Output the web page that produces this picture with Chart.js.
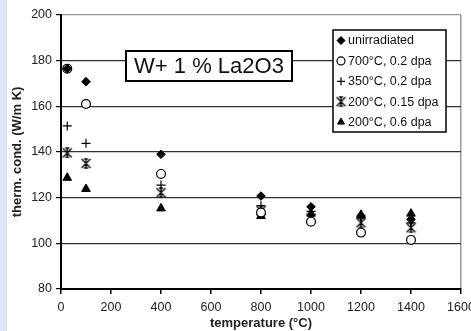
<!DOCTYPE html>
<html>
<head>
<meta charset="utf-8">
<script src="https://cdn.jsdelivr.net/npm/chart.js@4"></script>
<style>
  html, body { margin: 0; padding: 0; background: #fff; overflow: hidden; }
</style>
</head>
<body>
<canvas id="chart" width="471" height="331"></canvas>
<script>
// temperatures (°C) where the samples were measured
const temps = [25, 100, 400, 800, 1000, 1200, 1400];

// thermal conductivity (W/m K)
const unirradiated = [176.5, 170.8, 139.0, 120.7, 116.0, 112.0, 110.5];
const irr700_02    = [176.5, 161.0, 130.4, 113.5, 109.5, 104.7, 101.5];
const irr350_02    = [151.4, 143.8, 125.5, 116.5, 114.0, 111.0, 109.0];
const irr200_015   = [139.6, 135.0, 122.2, 114.3, 111.0, 109.0, 106.8];
const irr200_06    = [128.7, 123.8, 115.3, 112.0, 113.0, 112.5, 113.0];

const seriesNames = ['unirradiated', '700°C, 0.2 dpa', '350°C, 0.2 dpa', '200°C, 0.15 dpa', '200°C, 0.6 dpa'];
const chartLabel = 'W+ 1 % La2O3';
const xTitle = 'temperature (°C)';
const yTitle = 'therm. cond. (W/m K)';

const FONT = '"Liberation Sans", Arial, sans-serif';

// asterisk with caps, like the one in the original figure
function makeStar() {
  const c = document.createElement('canvas');
  c.width = 11; c.height = 11;
  const g = c.getContext('2d');
  g.strokeStyle = '#000';
  g.lineWidth = 1.3;
  g.beginPath();
  g.moveTo(1, 1); g.lineTo(10, 10);
  g.moveTo(10, 1); g.lineTo(1, 10);
  g.moveTo(5.5, 1); g.lineTo(5.5, 10);
  g.moveTo(3.5, 1); g.lineTo(7.5, 1);
  g.moveTo(3.5, 10); g.lineTo(7.5, 10);
  g.stroke();
  return c;
}
const starImg = makeStar();

const styles = [
  { pointStyle: 'rectRot',  radius: 4.3, bg: '#000', border: 1 },
  { pointStyle: 'circle',   radius: 4.4, bg: '#fff', border: 1.2 },
  { pointStyle: 'cross',    radius: 4.5, bg: '#000', border: 1.2 },
  { pointStyle: starImg,    radius: 5,   bg: '#000', border: 1 },
  { pointStyle: 'triangle', radius: 5,   bg: '#000', border: 1 }
];
const values = [unirradiated, irr700_02, irr350_02, irr200_015, irr200_06];

const datasets = values.map((vals, i) => ({
  label: seriesNames[i],
  data: temps.map((t, j) => ({ x: t, y: vals[j] })),
  showLine: false,
  pointStyle: styles[i].pointStyle,
  pointRadius: styles[i].radius,
  pointBackgroundColor: styles[i].bg,
  pointBorderColor: '#000',
  pointBorderWidth: styles[i].border
}));

const decor = {
  id: 'decor',
  beforeDraw(chart) {
    const c = chart.ctx;
    c.save();
    c.fillStyle = '#fff';
    c.fillRect(0, 0, chart.width, chart.height);
    c.fillStyle = '#e4e4f9';
    c.fillRect(0, 0, 7, chart.height);
    c.restore();
  },
  afterDraw(chart) {
    const c = chart.ctx;
    c.save();
    // label box
    c.fillStyle = '#fff';
    c.fillRect(126, 51, 166, 30);
    c.strokeStyle = '#000';
    c.lineWidth = 2;
    c.strokeRect(126, 51, 166, 30);
    c.fillStyle = '#111';
    c.font = '22px ' + FONT;
    c.textAlign = 'center';
    c.textBaseline = 'middle';
    c.fillText(chartLabel, 209, 67);

    // legend
    c.fillStyle = '#fff';
    c.fillRect(333, 30, 113, 102);
    c.lineWidth = 1.5;
    c.strokeRect(333, 30, 113, 102);
    c.font = '12.5px ' + FONT;
    c.textAlign = 'left';
    seriesNames.forEach((name, i) => {
      const y = 40.5 + i * 20.4;
      c.fillStyle = styles[i].bg;
      c.strokeStyle = '#000';
      c.lineWidth = styles[i].border;
      Chart.helpers.drawPoint(c, {
        pointStyle: styles[i].pointStyle,
        radius: Math.min(styles[i].radius, 4),
        borderWidth: styles[i].border,
        rotation: 0
      }, 341, y);
      c.fillStyle = '#111';
      c.fillText(name, 348, y + 0.5);
    });
    c.restore();
  }
};

new Chart(document.getElementById('chart'), {
  type: 'scatter',
  data: { datasets },
  options: {
    responsive: false,
    animation: false,
    layout: { padding: { top: 15, right: 10, left: 0, bottom: 0 } },
    plugins: { legend: { display: false }, tooltip: { enabled: false } },
    scales: {
      x: {
        type: 'linear', min: 0, max: 1600,
        ticks: { stepSize: 200, color: '#222', font: { family: FONT, size: 12.5 }, padding: 6, callback: v => String(v) },
        grid: {
          color: ctx => ctx.tick && ctx.tick.value === 1600 ? '#999' : 'rgba(0,0,0,0)',
          tickColor: '#000', tickLength: 5, lineWidth: 1.5
        },
        border: { color: '#000', width: 2 },
        title: { display: true, text: xTitle, color: '#222', font: { family: FONT, size: 13, weight: 'bold' }, padding: { top: 0, bottom: 0 } },
        afterFit(scale) { scale.height = 42; scale.paddingLeft = 0; scale.paddingRight = 0; }
      },
      y: {
        min: 80, max: 200,
        ticks: { stepSize: 20, color: '#222', font: { family: FONT, size: 12.5 }, padding: 4, callback: v => String(v) },
        grid: {
          color: ctx => ctx.tick && ctx.tick.value === 200 ? '#999' : (ctx.tick && ctx.tick.value === 80 ? '#000' : '#333'),
          tickColor: '#000', tickLength: 5, lineWidth: 1.2
        },
        border: { color: '#000', width: 2 },
        title: { display: true, text: yTitle, color: '#222', font: { family: FONT, size: 13, weight: 'bold' }, padding: { top: 10, bottom: 0 } },
        afterFit(scale) { scale.width = 61; scale.paddingTop = 0; scale.paddingBottom = 0; }
      }
    }
  },
  plugins: [decor]
});
</script>
</body>
</html>
